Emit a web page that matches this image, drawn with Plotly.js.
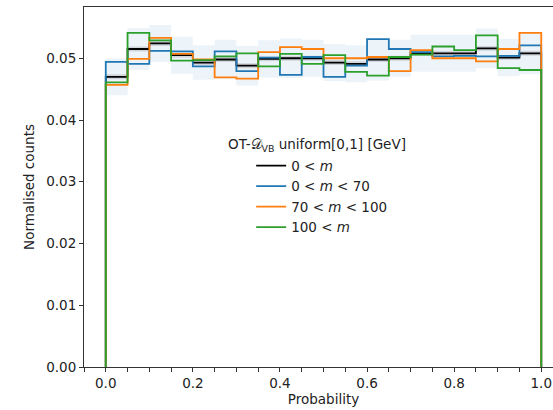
<!DOCTYPE html>
<html>
<head>
<meta charset="utf-8">
<script src="https://cdn.plot.ly/plotly-3.0.1.min.js"></script>
<style>
html,body{margin:0;padding:0;overflow:hidden;width:553px;height:410px;background:#fff;}
#chart{width:570px;height:410px;}
</style>
</head>
<body>
<div id="chart"></div>
<script>
// Bin edges (probability)
const binEdges = [0.00,0.05,0.10,0.15,0.20,0.25,0.30,0.35,0.40,0.45,0.50,0.55,0.60,0.65,0.70,0.75,0.80,0.85,0.90,0.95,1.00];
// Normalised counts per bin
const allM   = [0.0470,0.0515,0.0524,0.0505,0.0493,0.0498,0.0488,0.0499,0.0500,0.0500,0.0493,0.0491,0.0498,0.0500,0.0508,0.0508,0.0508,0.0516,0.0501,0.0508];
const lowM   = [0.0494,0.0491,0.0512,0.0511,0.0487,0.0511,0.0479,0.0501,0.0473,0.0502,0.0470,0.0488,0.0531,0.0515,0.0510,0.0503,0.0504,0.0503,0.0504,0.0521];
const midM   = [0.0457,0.0499,0.0533,0.0507,0.0498,0.0469,0.0467,0.0510,0.0518,0.0515,0.0500,0.0500,0.0502,0.0479,0.0513,0.0500,0.0500,0.0495,0.0515,0.0541];
const highM  = [0.0461,0.0541,0.0529,0.0496,0.0497,0.0503,0.0508,0.0487,0.0507,0.0491,0.0505,0.0478,0.0472,0.0502,0.0506,0.0519,0.0513,0.0537,0.0484,0.0481];
// Uncertainty band half-widths around the inclusive histogram
const bandWide   = [0.0030,0.0034,0.0030,0.0030,0.0028,0.0032,0.0032,0.0030,0.0032,0.0030,0.0030,0.0030,0.0034,0.0030,0.0030,0.0030,0.0030,0.0032,0.0030,0.0034];
const bandNarrow = [0.0004,0.0004,0.0004,0.0004,0.0004,0.0004,0.0004,0.0004,0.0004,0.0004,0.0004,0.0004,0.0004,0.0004,0.0004,0.0004,0.0004,0.0004,0.0004,0.0004];
const seriesNames = ["0 &lt; <i>m</i>","0 &lt; <i>m</i> &lt; 70","70 &lt; <i>m</i> &lt; 100","100 &lt; <i>m</i>"];
const seriesColors = ["#000000","#1f77b4","#ff7f0e","#2ca02c"];

function stepXY(vals){
  const x=[binEdges[0]], y=[0];
  for(let i=0;i<vals.length;i++){ x.push(binEdges[i]); y.push(vals[i]); }
  x.push(binEdges[binEdges.length-1]); y.push(vals[vals.length-1]);
  x.push(binEdges[binEdges.length-1]); y.push(0);
  return {x,y};
}
function bandXY(vals, sign, hw){
  const x=[], y=[];
  for(let i=0;i<vals.length;i++){ x.push(binEdges[i]); y.push(vals[i]+sign*hw[i]); }
  x.push(binEdges[binEdges.length-1]); y.push(vals[vals.length-1]+sign*hw[hw.length-1]);
  return {x,y};
}
const traces=[];
function addBand(hw,color){
  const lo=bandXY(allM,-1,hw), hi=bandXY(allM,1,hw);
  traces.push({x:lo.x,y:lo.y,mode:'lines',line:{shape:'hv',width:0},showlegend:false,hoverinfo:'skip'});
  traces.push({x:hi.x,y:hi.y,mode:'lines',line:{shape:'hv',width:0},fill:'tonexty',fillcolor:color,showlegend:false,hoverinfo:'skip'});
}
addBand(bandWide,'rgba(31,119,180,0.085)');
addBand(bandNarrow,'rgba(0,0,0,0.12)');
[allM,lowM,midM,highM].forEach((v,k)=>{
  const s=stepXY(v);
  traces.push({x:s.x,y:s.y,mode:'lines',name:seriesNames[k],line:{shape:'hv',color:seriesColors[k],width:1.8}});
});

const fnt={family:'DejaVu Sans, sans-serif',size:13.5,color:'#222'};
const layout={
  width:570,height:410,
  margin:{l:84,r:7,t:7,b:43},
  paper_bgcolor:'#fff',plot_bgcolor:'#fff',
  font:fnt,
  showlegend:true,
  legend:{x:0.349,y:0.602,xanchor:'left',yanchor:'top',traceorder:'normal',bgcolor:'rgba(0,0,0,0)',font:{family:'DejaVu Sans, sans-serif',size:13.5,color:'#222'},tracegroupgap:0},
  annotations:[{xref:'paper',yref:'paper',x:0.486,y:0.617,xanchor:'center',yanchor:'middle',showarrow:false,
    text:'OT-𝒟<sub>VB</sub> uniform[0,1] [GeV]',font:{family:'DejaVu Sans, sans-serif',size:13.5,color:'#222'}}],
  xaxis:{range:[-0.05,1.05],tickvals:[0,0.2,0.4,0.6,0.8,1.0],tickformat:'.1f',ticks:'outside',ticklen:4,tickwidth:1,tickcolor:'#333',
    minor:{dtick:0.05,tick0:0,ticks:'outside',ticklen:4,tickcolor:'#333'},
    showline:true,linecolor:'#333',linewidth:1,mirror:true,showgrid:false,zeroline:false,
    title:{text:'Probability',font:fnt,standoff:4}},
  yaxis:{range:[0,0.0583],tickvals:[0,0.01,0.02,0.03,0.04,0.05],tickformat:'.2f',ticks:'outside',ticklen:4,tickwidth:1,tickcolor:'#333',
    showline:true,linecolor:'#333',linewidth:1,mirror:true,showgrid:false,zeroline:false,
    title:{text:'Normalised counts',font:fnt,standoff:8}}
};
Plotly.newPlot('chart',traces,layout,{displayModeBar:false,staticPlot:true});
</script>
</body>
</html>
